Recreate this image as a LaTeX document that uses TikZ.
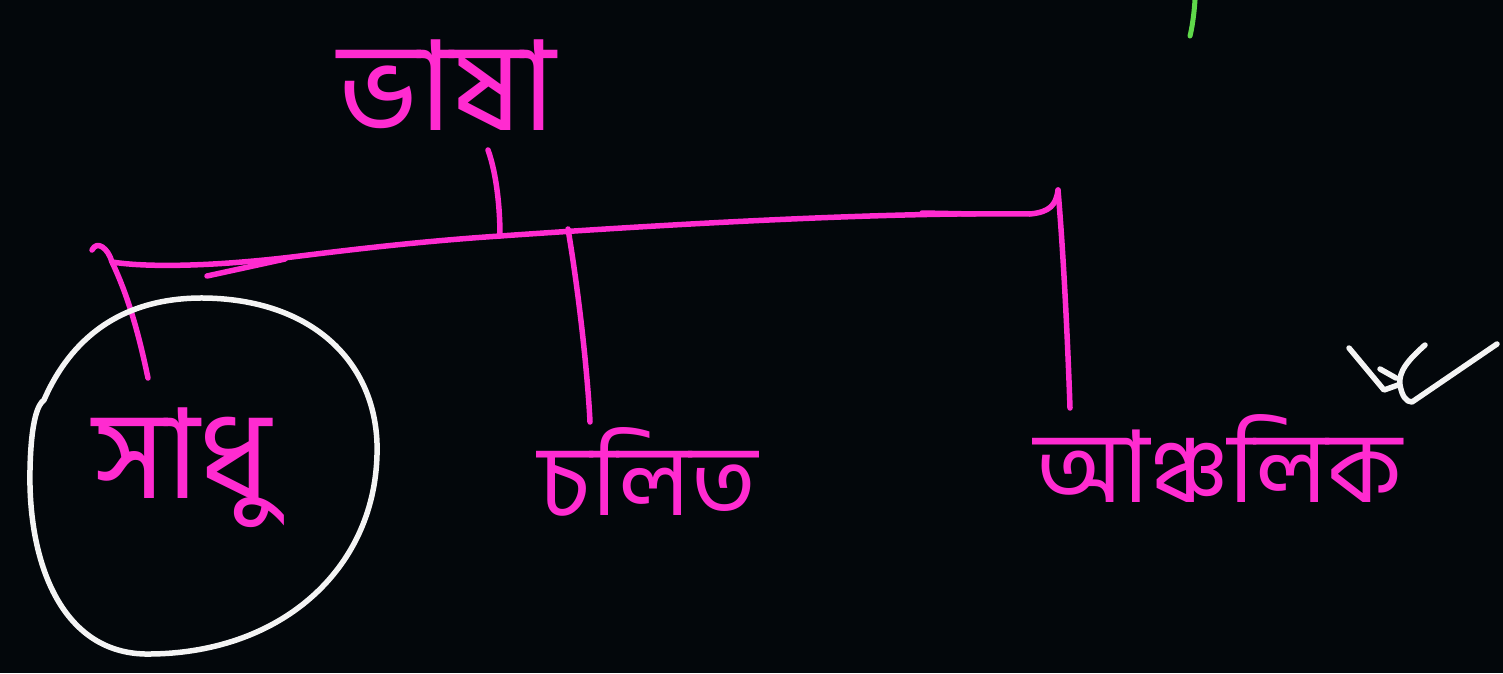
\documentclass[tikz,border=0pt]{standalone}
\usepackage{fontspec}
\newfontfamily\bngfont[Script=Bengali]{Hind Siliguri}
\definecolor{board}{HTML}{03070B}
\definecolor{ink}{HTML}{FF2BD0}
\definecolor{chalk}{HTML}{F4F4F4}
\definecolor{leaf}{HTML}{5FD94A}
\begin{document}
\begin{tikzpicture}[x=1pt,y=-1pt,
  pen/.style={draw=ink,line width=5.5pt,line cap=round,line join=round},
  chalkpen/.style={draw=chalk,line width=5.5pt,line cap=round,line join=round},
  word/.style={text=ink,inner sep=0pt},
  big/.style={font=\bngfont\fontsize{125}{130}\selectfont},
  mid/.style={font=\bngfont\fontsize{100}{110}\selectfont}]
% board
\fill[board] (0,0) rectangle (1503,673);
\useasboundingbox (0,0) rectangle (1503,673);

% words
\node[word,big] (bhasha) at (447,85) {ভাষা};
\node[word,big] (sadhu) at (182,468) {সাধু};
\node[word,mid] (cholito) at (648,472) {চলিত};
\node[word,mid] (anchalik) at (1218,458) {আঞ্চলিক};

% junctions on the bar
\coordinate (topj) at (500,236);
\coordinate (leftj) at (112,262);
\coordinate (midj) at (568,229);
\coordinate (rightj) at (1058,190);
\coordinate (leftend) at (148,378);
\coordinate (midend) at (590,422);
\coordinate (rightend) at (1070,408);

% stem from the heading down to the bar
\draw[pen] (488,150) .. controls (497,175) and (500,210) .. (topj);
% the bar, with its hook at the left and the turn up at the right
\draw[pen] (92,250) .. controls (97,240) and (108,248) .. (leftj)
  .. controls (150,268) and (220,266) .. (300,256)
  .. controls (380,246) and (440,240) .. (topj)
  .. controls (700,222) and (900,212) .. (1030,214)
  .. controls (1050,212) and (1056,205) .. (rightj);
\draw[pen] (207,276) -- (285,259);
\draw[pen] (922,213) -- (975,214);
% branches
\draw[pen] (leftj) .. controls (130,300) and (140,340) .. (leftend);
\draw[pen] (midj) .. controls (580,300) and (588,380) .. (midend);
\draw[pen] (rightj) .. controls (1064,260) and (1068,350) .. (rightend);

% ring around the first branch
\draw[chalkpen] (205,298) .. controls (320,300) and (380,370) .. (377,455)
  .. controls (374,570) and (280,655) .. (145,654)
  .. controls (60,652) and (28,560) .. (30,470)
  .. controls (31,420) and (38,404) .. (44,400)
  .. controls (70,340) and (120,297) .. (205,298);

% tick mark
\draw[chalkpen] (1349,348) -- (1384,390) -- (1398,385);
\draw[chalkpen] (1380,369) -- (1396,378);
\draw[chalkpen] (1425,345) .. controls (1408,360) and (1398,372) .. (1400,385)
  .. controls (1402,396) and (1406,402) .. (1412,402) -- (1497,344);

% green stroke at the top edge
\draw[draw=leaf,line width=5pt,line cap=round] (1195,0) .. controls (1194,15) and (1192,28) .. (1190,36);
\end{tikzpicture}
\end{document}
